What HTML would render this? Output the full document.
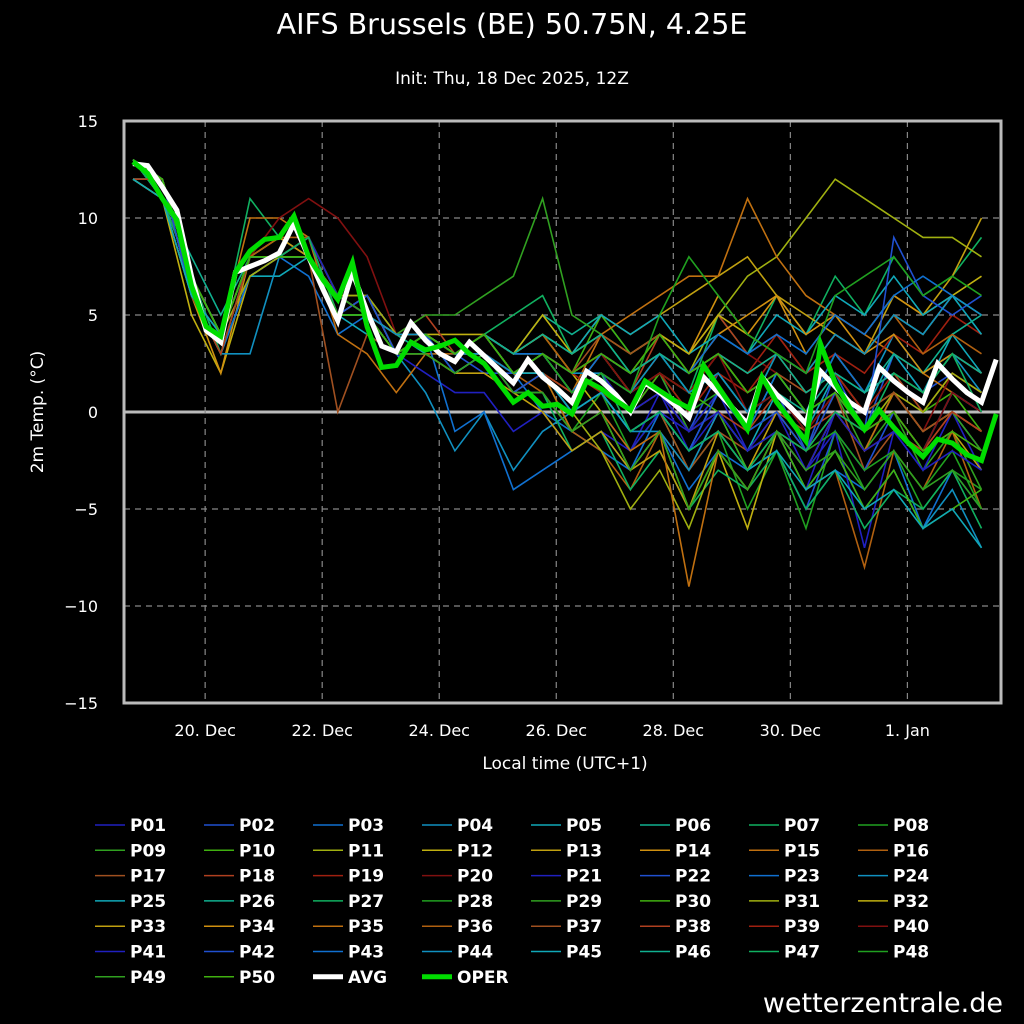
<!DOCTYPE html>
<html><head><meta charset="utf-8"><style>
html,body{margin:0;padding:0;background:#000;}
svg{display:block;font-family:"DejaVu Sans","Liberation Sans",sans-serif;}
</style></head><body>
<svg id="c" width="1024" height="1024" viewBox="0 0 1024 1024">
<rect width="1024" height="1024" fill="#000"/>
<text x="512" y="34" fill="#fff" font-size="28.5" text-anchor="middle">AIFS Brussels (BE) 50.75N, 4.25E</text>
<text x="512" y="84" fill="#fff" font-size="17" text-anchor="middle">Init: Thu, 18 Dec 2025, 12Z</text>
<text transform="translate(43,412) rotate(-90)" fill="#fff" font-size="17" text-anchor="middle">2m Temp. (°C)</text>
<text x="565" y="769" fill="#fff" font-size="17" text-anchor="middle">Local time (UTC+1)</text>
<text x="1003" y="1012" fill="#fff" font-size="27" text-anchor="end">wetterzentrale.de</text>
<g id="grid"></g><g id="series"></g><g id="axes"></g><g id="legend"></g>
</svg>
<script>
const yTicks=[15,10,5,0,-5,-10,-15];
const xTickLabels=["20. Dec","22. Dec","24. Dec","26. Dec","28. Dec","30. Dec","1. Jan"];
const xTickIdx=[5,13,21,29,37,45,53];
const avg=[12.8,12.7,11.6,10.4,7,4.2,3.6,7.2,7.5,7.8,8.2,9.7,8,6.3,4.7,7.2,5.2,3.4,3.1,4.6,3.7,3.0,2.6,3.6,2.9,2.2,1.5,2.7,1.8,1.2,0.5,2.1,1.6,0.9,0,1.5,1.0,0.4,-0.3,1.8,1.0,0.2,-0.6,1.8,0.9,0.2,-0.6,2.1,1.3,0.5,0,2.3,1.6,1.0,0.5,2.5,1.7,1.0,0.5,2.7];
const oper=[12.9,12.3,11,9.9,6.5,4.4,3.9,7.2,8.3,8.9,9,10.1,8,6.8,5.8,7.7,4.4,2.3,2.4,3.6,3.2,3.4,3.7,3.0,2.5,1.5,0.5,1.0,0.3,0.4,-0.1,1.6,1.2,0.6,0.1,1.6,1.1,0.6,0.2,2.4,1.3,0.2,-0.9,1.8,0.5,-0.5,-1.5,3.5,1.5,0.2,-0.9,0.1,-0.8,-1.6,-2.3,-1.4,-1.6,-2.2,-2.5,-0.1];
const P01=[13,12,6,3,7,8,9,5,6,3,4,2,3,1,1,-1,0,-2,1,-2,0,-3,-1,-4,0,-2,1,-1,0,-3];
const P02=[13,11,7,4,8,9,8,6,5,3,3,3,2,2,3,1,3,1,2,-1,2,0,1,-2,2,-1,3,1,2,1];
const P03=[12,12,6,3,7,8,7,4,5,4,4,3,4,2,0,-1,-2,-3,-1,-4,-2,-3,-2,-5,-3,-4,-2,-6,-3,-5];
const P04=[13,12,7,4,8,8,8,5,6,3,1,-2,0,-3,-1,0,1,-1,0,-2,1,-1,2,0,3,1,4,2,3,1];
const P05=[13,11,6,3,7,7,8,5,4,3,4,2,3,2,3,1,2,0,1,-1,0,-2,1,-1,2,0,3,1,4,2];
const P06=[12,11,8,5,8,8,9,6,5,4,3,3,4,3,5,4,5,3,4,2,3,1,2,0,1,-1,0,-2,1,0];
const P07=[13,12,7,4,11,9,8,5,5,3,4,3,4,5,6,3,4,2,3,1,5,3,6,4,7,5,8,6,7,9];
const P08=[13,12,6,3,8,8,9,5,6,3,3,2,3,1,2,-1,1,-2,0,-3,-1,-5,-2,-6,-1,-4,-2,-5,-3,-4];
const P09=[12,12,7,4,8,8,8,5,5,3,4,3,4,2,3,1,2,0,2,-1,1,-1,2,0,1,-2,0,-3,-1,-4];
const P10=[13,11,7,4,8,9,8,5,5,3,4,3,4,3,4,2,5,3,4,2,3,1,2,0,3,1,2,0,1,-1];
const P11=[13,12,7,4,8,8,8,5,5,3,4,3,3,2,3,1,2,1,3,2,5,7,8,10,12,11,10,9,9,8];
const P12=[12,11,5,2,7,8,8,6,5,3,4,4,4,3,3,2,0,-3,-1,-5,-2,-6,-1,-3,0,-2,1,-1,0,-1];
const P13=[12,12,7,4,8,8,9,6,5,4,4,3,4,3,4,3,5,4,5,6,7,8,6,5,4,3,6,5,7,10];
const P14=[13,12,6,2,8,9,8,6,6,3,4,3,3,2,2,1,3,2,4,3,6,4,6,3,5,4,6,5,6,5];
const P15=[13,12,7,4,10,10,9,4,3,1,3,2,3,2,3,1,4,5,6,7,7,11,8,6,5,4,3,2,1,0];
const P16=[13,11,7,3,8,8,9,5,5,3,3,3,4,2,1,-1,-2,-4,-1,-3,0,-2,-1,-4,-3,-8,-2,-4,-1,-5];
const P17=[13,12,7,4,7,8,8,0,4,3,4,3,3,2,2,0,1,-1,0,-3,-1,-2,0,-1,1,-3,-1,-2,0,-2];
const P18=[13,12,6,4,8,8,8,5,6,4,5,3,4,3,4,2,3,1,4,3,5,3,4,2,3,1,2,0,2,1];
const P19=[13,12,7,4,8,8,9,5,6,4,4,3,4,2,3,2,1,0,2,1,3,2,4,2,3,2,4,3,5,4];
const P20=[13,12,7,4,8,10,11,10,8,4,4,3,4,2,3,1,2,1,3,2,4,3,2,1,2,0,1,-1,2,1];
const P21=[12,12,6,3,8,8,8,5,5,3,2,1,1,-1,0,-2,-1,-2,0,-1,1,-2,0,-3,-1,-7,-1,-3,0,-2];
const P22=[13,11,7,4,8,8,8,5,6,4,4,3,3,2,2,0,1,-1,0,-2,-1,-3,-2,-5,-1,-3,0,-2,1,0];
const P23=[13,12,7,3,7,8,8,5,5,3,4,-1,0,-4,-3,-2,-1,-3,0,-2,1,-1,2,0,3,1,2,1,3,2];
const P24=[12,12,6,3,3,8,8,5,5,3,4,3,3,2,2,0,1,-1,-1,-3,0,-2,-1,-4,-2,-5,-3,-6,-4,-7];
const P25=[13,12,7,4,8,8,9,5,5,4,4,3,4,3,4,3,5,4,5,3,4,3,5,4,6,5,7,5,6,4];
const P26=[13,12,7,4,8,8,9,6,5,4,4,3,4,3,3,2,3,2,3,1,2,0,1,0,2,1,3,2,4,5];
const P27=[13,11,7,3,8,8,8,5,6,3,4,2,3,1,1,-2,-1,-4,-2,-5,-3,-4,-2,-5,-3,-6,-4,-5,-3,-6];
const P28=[13,12,7,4,8,8,9,6,5,3,4,3,4,3,4,2,3,1,2,0,1,-1,0,-2,-1,-3,-2,-4,-2,-5];
const P29=[12,12,6,3,8,8,8,5,5,4,5,5,6,7,11,5,4,2,3,1,2,0,3,1,2,0,1,-1,0,-2];
const P30=[13,12,7,4,8,8,8,5,5,3,4,3,4,2,3,1,2,0,2,1,0,-3,-1,-4,-2,-5,-3,-6,-5,-4];
const P31=[13,12,7,4,7,8,8,6,6,4,4,3,3,2,2,0,-2,-5,-3,-6,-2,-4,-1,-2,0,-1,1,0,2,1];
const P32=[13,12,7,4,8,8,9,5,5,3,4,3,4,3,5,3,4,3,4,3,5,4,3,2,4,3,5,4,6,7];
const P33=[12,11,6,4,8,8,8,5,5,3,3,2,2,1,0,-2,-1,-3,-2,-5,-1,-3,0,-2,1,-1,0,-2,-1,-3];
const P34=[13,12,7,4,8,8,8,6,5,3,4,3,4,3,4,2,3,2,3,2,4,5,6,4,5,3,4,2,3,2];
const P35=[13,12,7,4,8,8,8,5,5,3,4,3,3,1,2,-1,0,-2,-1,-9,-2,-4,-1,-3,0,-2,1,-1,0,-1];
const P36=[13,12,7,4,8,9,9,6,5,4,4,3,4,3,4,2,3,1,2,1,3,2,3,2,4,3,5,3,4,3];
const P37=[13,12,7,4,8,8,8,5,6,3,4,3,4,2,3,2,4,3,4,2,3,1,2,1,2,0,1,-1,0,-1];
const P38=[12,12,6,3,8,8,8,5,5,3,4,3,3,2,2,1,2,0,1,-1,0,-1,1,-1,0,-2,-1,-2,0,-1];
const P39=[13,12,7,4,8,8,9,5,5,3,4,3,4,2,3,1,2,1,2,0,2,1,3,1,2,0,2,1,3,2];
const P40=[13,12,7,4,8,8,8,5,5,3,4,3,4,2,3,2,3,1,2,1,3,0,1,-1,1,-1,0,-2,1,0];
const P41=[13,12,7,4,8,8,9,6,5,3,4,3,3,2,3,1,2,0,1,-1,0,-2,-1,-3,0,-2,-1,-3,-2,-3];
const P42=[13,12,6,4,8,8,8,5,6,3,4,2,3,1,2,0,1,-1,0,-2,1,-1,0,-2,1,-1,9,6,5,6];
const P43=[13,12,7,4,8,8,8,5,5,3,4,3,4,3,3,1,3,2,3,2,4,3,4,3,5,4,6,7,6,5];
const P44=[13,12,7,4,8,8,8,5,5,4,4,3,3,2,3,2,2,1,3,1,2,0,3,2,4,3,5,4,6,5];
const P45=[12,11,6,4,8,8,8,5,5,3,4,3,4,2,2,0,1,-1,0,-2,-1,-3,-2,-4,-3,-5,-4,-6,-5,-7];
const P46=[13,12,7,4,8,8,8,5,5,3,4,3,4,3,4,3,4,2,3,2,3,2,3,1,2,1,2,1,3,2];
const P47=[13,12,7,4,8,8,9,5,5,3,4,3,4,2,3,1,2,-1,0,-2,-1,-3,-1,-2,0,-1,2,1,3,0];
const P48=[13,12,7,4,8,8,8,5,5,3,4,3,4,2,3,1,2,1,5,8,6,4,3,2,6,7,8,6,7,6];
const P49=[13,12,7,4,8,8,8,6,5,3,3,2,3,1,1,-1,0,-3,-1,-5,-2,-4,-1,-3,-2,-4,-2,-4,-3,-5];
const P50=[13,12,7,4,8,8,8,5,5,3,4,3,4,2,3,2,3,2,4,2,3,1,2,0,1,-1,0,-2,-1,-2];
const members=[P01,P02,P03,P04,P05,P06,P07,P08,P09,P10,P11,P12,P13,P14,P15,P16,P17,P18,P19,P20,P21,P22,P23,P24,P25,P26,P27,P28,P29,P30,P31,P32,P33,P34,P35,P36,P37,P38,P39,P40,P41,P42,P43,P44,P45,P46,P47,P48,P49,P50];
const palette=["#2020c0","#2050d0","#1070d0","#1090c0","#10a8b8","#10b090","#10b060","#20a020","#30a020","#40b010","#a0b010","#c0b010","#c0a010","#d09010","#c07010","#b06010","#a05020","#b04020","#a02010","#801010"];

const NS="http://www.w3.org/2000/svg";
const X0=133,DX=14.63,Y0=412,DY=19.4,L=124,R=1001,T=121,B=703;
const xs=i=>X0+i*DX, ys=v=>Y0-v*DY;
function mk(tag,attrs,parent){const e=document.createElementNS(NS,tag);for(const k in attrs)e.setAttribute(k,attrs[k]);parent.appendChild(e);return e;}
const grid=document.getElementById('grid'),ser=document.getElementById('series'),ax=document.getElementById('axes'),leg=document.getElementById('legend');

yTicks.forEach(v=>{
  if(v!==15&&v!==-15){const g=mk('line',{x1:L,x2:R,y1:ys(v),y2:ys(v),stroke:v===0?'#bbb':'#888','stroke-width':v===0?3:1.2,'stroke-dasharray':v===0?'':'6,5'},grid);
  
  }
  const t=mk('text',{x:98,y:ys(v)+6,fill:'#fff','font-size':16,'text-anchor':'end'},ax);
  t.textContent=(v<0?'\u2212':'')+Math.abs(v);
  
  
});
xTickIdx.forEach((ix,k)=>{
  const x=xs(ix)-1;
  const g=mk('line',{x1:x,x2:x,y1:T,y2:B,stroke:'#888','stroke-width':1.2,'stroke-dasharray':'6,5'},grid);
  
  
  const t=mk('text',{x:x,y:736,fill:'#fff','font-size':16,'text-anchor':'middle'},ax);
  t.textContent=xTickLabels[k];
  
  
});
const fr=mk('rect',{x:L,y:T,width:R-L,height:B-T,fill:'none',stroke:'#bbb','stroke-width':3},ax);



members.forEach((arr,m)=>{
  const pts=arr.map((v,i)=>xs(i*2).toFixed(1)+','+ys(v).toFixed(1)).join(' ');
  const p=mk('polyline',{points:pts,fill:'none',stroke:palette[m%20],'stroke-width':1.6},ser);
  
  
});
const pa=mk('polyline',{points:avg.map((v,i)=>xs(i)+','+ys(v)).join(' '),fill:'none',stroke:'#fff','stroke-width':5,'stroke-linejoin':'miter'},ser);


const po=mk('polyline',{points:oper.map((v,i)=>xs(i)+','+ys(v)).join(' '),fill:'none',stroke:'#00dd00','stroke-width':5,'stroke-linejoin':'miter'},ser);



const names=members.map((_,i)=>'P'+String(i+1).padStart(2,'0')).concat(['AVG','OPER']);
names.forEach((n,i)=>{
  const col=i%8,row=Math.floor(i/8);
  const x=95+col*109,y=825+row*25.3;
  const c=n==='AVG'?'#fff':n==='OPER'?'#00dd00':palette[i%20];
  const w=(n==='AVG'||n==='OPER')?5:1.5;
  const g=mk('g',{},leg);
  
  
  mk('line',{x1:x,x2:x+30,y1:y,y2:y,stroke:c,'stroke-width':w},g);
  const t=mk('text',{x:x+35,y:y+6,fill:'#fff','font-size':17,'font-weight':'bold'},g);
  t.textContent=n;
});
</script>
</body></html>
